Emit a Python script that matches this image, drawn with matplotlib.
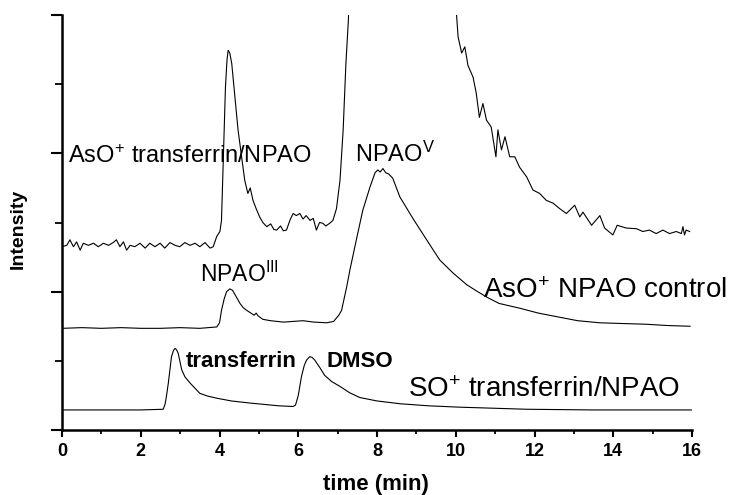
import matplotlib
matplotlib.use('Agg')
import matplotlib.pyplot as plt
from matplotlib.ticker import MultipleLocator

plt.rcParams['font.family'] = ['Liberation Sans', 'DejaVu Sans']
plt.rcParams['mathtext.fontset'] = 'custom'
plt.rcParams['mathtext.rm'] = 'Liberation Sans'
plt.rcParams['mathtext.it'] = 'Liberation Sans:italic'
plt.rcParams['mathtext.bf'] = 'Liberation Sans:bold'

# AsO+ transferrin/NPAO (top, noisy trace; goes off scale between ~7.3 and 10 min)
top_t = [0.0, 0.12, 0.2, 0.29, 0.37, 0.46, 0.54, 0.67, 0.8, 0.92, 1.05, 1.18, 1.3, 1.38,
         1.47, 1.56, 1.64, 1.73, 1.85, 1.98, 2.11, 2.23, 2.36, 2.49, 2.61, 2.74, 2.87,
         2.99, 3.12, 3.25, 3.38, 3.5, 3.63, 3.76, 3.84, 3.93, 4.01, 4.05, 4.08, 4.12, 4.15,
         4.19, 4.22, 4.26, 4.31, 4.39, 4.47, 4.56, 4.64, 4.72, 4.78, 4.85, 4.93, 5.02, 5.1,
         5.2, 5.3, 5.38, 5.45, 5.55, 5.62, 5.7, 5.8, 5.87, 5.95, 6.04, 6.12, 6.2, 6.3, 6.38,
         6.46, 6.54, 6.62, 6.7, 6.8, 6.88, 6.97, 7.06, 7.14, 7.21, 7.27, 7.35, 9.95,
         10.02, 10.06, 10.15, 10.23, 10.31, 10.44, 10.52, 10.6, 10.69, 10.78, 10.9, 11.02,
         11.07, 11.16, 11.25, 11.37, 11.5, 11.62, 11.8, 11.96, 12.13, 12.3, 12.47, 12.64,
         12.81, 13.02, 13.15, 13.23, 13.45, 13.66, 13.78, 13.99, 14.1, 14.33, 14.59, 14.75,
         14.92, 15.09, 15.26, 15.43, 15.6, 15.73, 15.77, 15.81, 15.85, 15.94]
top_i = [2.65, 2.67, 2.75, 2.65, 2.72, 2.60, 2.70, 2.67, 2.70, 2.65, 2.70, 2.67, 2.71, 2.75,
         2.65, 2.72, 2.60, 2.67, 2.65, 2.70, 2.63, 2.70, 2.65, 2.70, 2.63, 2.71, 2.67,
         2.65, 2.71, 2.67, 2.70, 2.65, 2.71, 2.63, 2.65, 2.80, 2.87, 3.03, 3.60, 4.40, 4.95,
         5.35, 5.49, 5.45, 5.30, 4.82, 4.34, 3.95, 3.61, 3.42, 3.50, 3.32, 3.20, 3.08, 3.00,
         2.94, 2.98, 2.90, 2.89, 2.95, 2.88, 2.89, 3.05, 3.13, 3.10, 3.13, 3.05, 3.10, 3.03, 3.06,
         2.89, 3.00, 2.99, 2.95, 2.99, 3.03, 3.20, 3.61, 4.34, 5.30, 5.90, 7.0, 7.0,
         6.0, 5.68, 5.45, 5.54, 5.27, 5.10, 4.87, 4.52, 4.72, 4.48, 4.38, 3.95,
         4.34, 4.05, 4.24, 3.95, 3.95, 3.80, 3.66, 3.47, 3.42, 3.32, 3.28, 3.20,
         3.13, 3.25, 3.08, 3.15, 2.96, 3.10, 2.92, 2.82, 2.96, 2.92, 2.91, 2.87,
         2.89, 2.84, 2.89, 2.84, 2.87, 2.84, 2.94, 2.82, 2.89, 2.87]

# AsO+ NPAO control (middle)
mid_t = [0.0, 0.5, 1.0, 1.5, 2.0, 2.5, 3.0, 3.5, 3.93, 4.0, 4.05, 4.12, 4.18, 4.26, 4.33,
         4.42, 4.52, 4.6, 4.69, 4.88, 4.93, 4.98, 5.1, 5.3, 5.62, 6.12, 6.4, 6.72, 6.9, 6.97,
         7.03, 7.1, 7.23, 7.31, 7.49, 7.64, 7.82, 7.95, 8.02, 8.08, 8.15, 8.22, 8.3, 8.4,
         8.58, 8.91, 9.26, 9.59, 9.93, 10.28, 10.5, 10.79, 11.1, 11.63, 12.1, 12.64, 13.1,
         13.66, 14.2, 14.8, 15.4, 15.95]
mid_i = [1.47, 1.48, 1.47, 1.48, 1.47, 1.47, 1.48, 1.47, 1.49, 1.55, 1.73, 1.90, 2.00, 2.04, 2.02,
         1.93, 1.83, 1.77, 1.73, 1.66, 1.69, 1.65, 1.60, 1.58, 1.56, 1.58, 1.56, 1.55, 1.57, 1.62,
         1.66, 1.73, 2.07, 2.31, 2.79, 3.18, 3.51, 3.72, 3.76, 3.73, 3.78, 3.72, 3.70, 3.64,
         3.37, 3.06, 2.75, 2.46, 2.27, 2.10, 2.02, 1.92, 1.83, 1.76, 1.69, 1.63, 1.58,
         1.55, 1.54, 1.53, 1.51, 1.50]

# SO+ transferrin/NPAO (bottom)
bot_t = [0.0, 2.0, 2.57, 2.62, 2.66, 2.7, 2.78, 2.83, 2.87, 2.91, 2.95, 3.04, 3.12, 3.25, 3.5,
         3.7, 3.93, 4.3, 4.77, 5.5, 5.87, 5.93, 6.0, 6.08, 6.15, 6.21, 6.29, 6.35, 6.42, 6.55,
         6.67, 6.85, 7.06, 7.3, 7.56, 8.0, 8.58, 9.3, 10.1, 11.8, 13.5, 16.0]
bot_i = [0.29, 0.29, 0.30, 0.38, 0.52, 0.68, 1.06, 1.15, 1.18, 1.16, 1.11, 0.87, 0.77, 0.68, 0.53,
         0.49, 0.46, 0.42, 0.39, 0.35, 0.34, 0.36, 0.50, 0.77, 0.93, 1.01, 1.06, 1.05, 1.01, 0.90,
         0.79, 0.70, 0.63, 0.54, 0.47, 0.42, 0.38, 0.35, 0.33, 0.30, 0.29, 0.29]

fig = plt.figure(figsize=(7.35, 4.95), dpi=100)
ax = fig.add_axes([0.0844, 0.1313, 0.8571, 0.8384])

for t, i in [(top_t, top_i), (mid_t, mid_i), (bot_t, bot_i)]:
    ax.plot(t, i, color='black', linewidth=0.8)

ax.set_xlim(0, 16)
ax.set_ylim(0, 6)
ax.spines['top'].set_visible(False)
ax.spines['right'].set_visible(False)
ax.spines['left'].set_linewidth(1.8)
ax.spines['bottom'].set_linewidth(1.8)
ax.xaxis.set_major_locator(MultipleLocator(2))
ax.xaxis.set_minor_locator(MultipleLocator(1))
ax.yaxis.set_major_locator(MultipleLocator(2))
ax.yaxis.set_minor_locator(MultipleLocator(1))
ax.set_yticklabels([])
ax.tick_params(axis='x', which='major', length=5, width=1.5, direction='out', pad=4)
ax.tick_params(axis='x', which='minor', length=2.7, width=1.3, direction='out')
ax.tick_params(axis='y', which='major', length=8, width=1.5, direction='out')
ax.tick_params(axis='y', which='minor', length=5, width=1.3, direction='out')
for lab in ax.get_xticklabels():
    lab.set_fontweight('bold')
    lab.set_fontsize(13)

ax.set_xlabel('time (min)', fontsize=16, fontweight='bold')
ax.xaxis.set_label_coords(0.499, -0.106)
ax.set_ylabel('Intensity', fontsize=14, fontweight='bold')
ax.yaxis.set_label_coords(-0.056, 0.484)

# peak / trace labels
ax.text(0.15, 3.86, 'AsO$^{+}$ transferrin/NPAO', fontsize=17, va='baseline')
ax.text(7.44, 3.87, 'NPAO$^{\\mathrm{V}}$', fontsize=17, va='baseline')
ax.text(3.5, 2.14, 'NPAO$^{\\mathrm{III}}$', fontsize=16.5, va='baseline')
ax.text(10.68, 1.91, 'AsO$^{+}$ NPAO control', fontsize=20, va='baseline', clip_on=False)
ax.text(3.15, 0.91, 'transferrin', fontsize=16, fontweight='bold', va='baseline')
ax.text(6.72, 0.91, 'DMSO', fontsize=16, fontweight='bold', va='baseline')
ax.text(8.78, 0.48, 'SO$^{+}$ transferrin/NPAO', fontsize=20, va='baseline')

plt.savefig('out.png', dpi=100)
